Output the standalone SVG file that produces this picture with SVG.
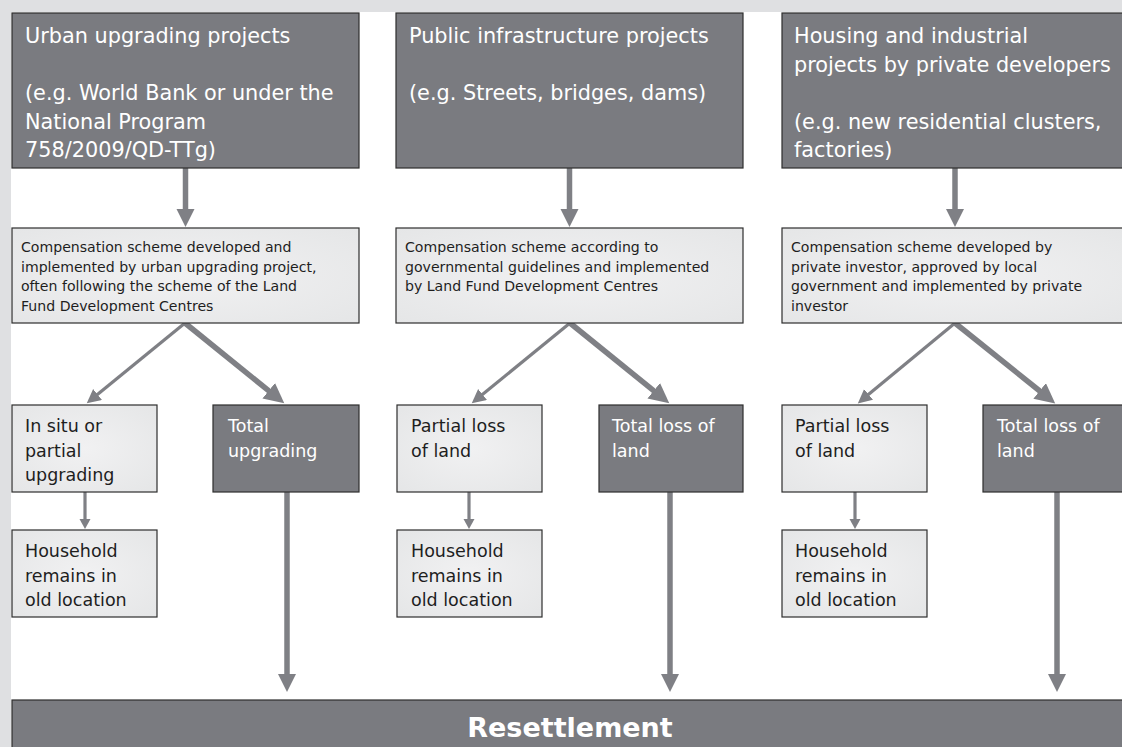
<svg xmlns="http://www.w3.org/2000/svg" width="1122" height="747" viewBox="0 0 1122 747">
<defs>
<style>
.dark{fill:#7a7b80;stroke:#2e2e2e;stroke-width:1.2}
.light{fill:url(#lg);stroke:#2e2e2e;stroke-width:1.2}
.tw{font-family:"DejaVu Sans",Verdana,sans-serif;fill:#ffffff}
.tb{font-family:"DejaVu Sans",Verdana,sans-serif;fill:#1e1e1e}
.big{font-size:20.8px}
.mid{font-size:17.5px}
.sm{font-size:14.1px}
.conn{stroke:#7f8085;fill:none;stroke-linecap:butt}
.thick{stroke-width:5.5}
.thin{stroke-width:3.2}
</style>
<radialGradient id="lg" cx="50%" cy="50%" r="70%">
<stop offset="0" stop-color="#f1f1f2"/>
<stop offset="1" stop-color="#e5e6e7"/>
</radialGradient>
<marker id="hL" markerUnits="userSpaceOnUse" markerWidth="22" markerHeight="22" refX="1" refY="10" orient="auto">
<path d="M0,0 L20,10 L0,20 z" fill="#7f8085"/>
</marker>
<marker id="hM" markerUnits="userSpaceOnUse" markerWidth="20" markerHeight="20" refX="1" refY="9" orient="auto">
<path d="M0,0 L18,9 L0,18 z" fill="#7f8085"/>
</marker>
<marker id="hS" markerUnits="userSpaceOnUse" markerWidth="16" markerHeight="16" refX="1" refY="7" orient="auto">
<path d="M0,0 L14,7 L0,14 z" fill="#7f8085"/>
</marker>
<marker id="hXS" markerUnits="userSpaceOnUse" markerWidth="12" markerHeight="12" refX="1" refY="5.5" orient="auto">
<path d="M0,0 L10,5.5 L0,11 z" fill="#7f8085"/>
</marker>
</defs>
<rect x="0" y="0" width="1122" height="747" fill="#dfe0e2"/>
<rect x="11" y="12" width="1111" height="735" fill="#ffffff"/>

<g id="connectors">
<line class="conn thick" x1="185.5" y1="168" x2="185.5" y2="210" marker-end="url(#hM)"/>
<line class="conn thick" x1="569.5" y1="168" x2="569.5" y2="210" marker-end="url(#hM)"/>
<line class="conn thick" x1="955" y1="168" x2="955" y2="210" marker-end="url(#hM)"/>

<line class="conn thin" x1="185" y1="323" x2="96.8" y2="395.1" marker-end="url(#hS)"/>
<line class="conn thick" x1="185" y1="323" x2="269.5" y2="391.4" marker-end="url(#hL)"/>
<line class="conn thin" x1="570" y1="323" x2="481.8" y2="395.1" marker-end="url(#hS)"/>
<line class="conn thick" x1="570" y1="323" x2="654.5" y2="391.4" marker-end="url(#hL)"/>
<line class="conn thin" x1="955" y1="323" x2="867.8" y2="395.1" marker-end="url(#hS)"/>
<line class="conn thick" x1="955" y1="323" x2="1040.4" y2="391.5" marker-end="url(#hL)"/>

<line class="conn thin" x1="85" y1="492" x2="85" y2="520" marker-end="url(#hXS)"/>
<line class="conn thin" x1="469" y1="492" x2="469" y2="520" marker-end="url(#hXS)"/>
<line class="conn thin" x1="855" y1="492" x2="855" y2="520" marker-end="url(#hXS)"/>

<line class="conn thick" x1="287" y1="492" x2="287" y2="675" marker-end="url(#hM)"/>
<line class="conn thick" x1="670" y1="492" x2="670" y2="675" marker-end="url(#hM)"/>
<line class="conn thick" x1="1057" y1="492" x2="1057" y2="675" marker-end="url(#hM)"/>
</g>

<g id="urban-projects">
<rect class="dark" x="12" y="13" width="347" height="155"/>
<text class="tw big"><tspan x="25" y="43">Urban upgrading projects</tspan><tspan x="25" y="100">(e.g. World Bank or under the</tspan><tspan x="25" y="128.5">National Program</tspan><tspan x="25" y="157">758/2009/QD-TTg)</tspan></text>
</g>
<g id="public-projects">
<rect class="dark" x="396" y="13" width="347" height="155"/>
<text class="tw big"><tspan x="409" y="43">Public infrastructure projects</tspan><tspan x="409" y="100">(e.g. Streets, bridges, dams)</tspan></text>
</g>
<g id="housing-projects">
<rect class="dark" x="782" y="13" width="346" height="155"/>
<text class="tw big"><tspan x="794" y="43">Housing and industrial</tspan><tspan x="794" y="71.5">projects by private developers</tspan><tspan x="794" y="128.5">(e.g. new residential clusters,</tspan><tspan x="794" y="157">factories)</tspan></text>
</g>

<g id="comp-urban">
<rect class="light" x="12" y="228" width="347" height="95"/>
<text class="tb sm"><tspan x="21" y="252">Compensation scheme developed and</tspan><tspan x="21" y="271.5">implemented by urban upgrading project,</tspan><tspan x="21" y="291">often following the scheme of the Land</tspan><tspan x="21" y="310.5">Fund Development Centres</tspan></text>
</g>
<g id="comp-public">
<rect class="light" x="396" y="228" width="347" height="95"/>
<text class="tb sm"><tspan x="405" y="252">Compensation scheme according to</tspan><tspan x="405" y="271.5">governmental guidelines and implemented</tspan><tspan x="405" y="291">by Land Fund Development Centres</tspan></text>
</g>
<g id="comp-housing">
<rect class="light" x="782" y="228" width="346" height="95"/>
<text class="tb sm"><tspan x="791" y="252">Compensation scheme developed by</tspan><tspan x="791" y="271.5">private investor, approved by local</tspan><tspan x="791" y="291">government and implemented by private</tspan><tspan x="791" y="310.5">investor</tspan></text>
</g>

<g id="in-situ">
<rect class="light" x="12" y="405" width="145" height="87"/>
<text class="tb mid"><tspan x="25" y="432">In situ or</tspan><tspan x="25" y="456.5">partial</tspan><tspan x="25" y="481">upgrading</tspan></text>
</g>
<g id="total-upgrading">
<rect class="dark" x="213" y="405" width="146" height="87"/>
<text class="tw mid"><tspan x="228" y="432">Total</tspan><tspan x="228" y="456.5">upgrading</tspan></text>
</g>
<g id="household-1">
<rect class="light" x="12" y="530" width="145" height="87"/>
<text class="tb mid"><tspan x="25" y="557">Household</tspan><tspan x="25" y="581.5">remains in</tspan><tspan x="25" y="606">old location</tspan></text>
</g>

<g id="partial-loss-2">
<rect class="light" x="397" y="405" width="145" height="87"/>
<text class="tb mid"><tspan x="411" y="432">Partial loss</tspan><tspan x="411" y="456.5">of land</tspan></text>
</g>
<g id="total-loss-2">
<rect class="dark" x="599" y="405" width="144" height="87"/>
<text class="tw mid"><tspan x="612" y="432">Total loss of</tspan><tspan x="612" y="456.5">land</tspan></text>
</g>
<g id="household-2">
<rect class="light" x="397" y="530" width="145" height="87"/>
<text class="tb mid"><tspan x="411" y="557">Household</tspan><tspan x="411" y="581.5">remains in</tspan><tspan x="411" y="606">old location</tspan></text>
</g>

<g id="partial-loss-3">
<rect class="light" x="782" y="405" width="145" height="87"/>
<text class="tb mid"><tspan x="795" y="432">Partial loss</tspan><tspan x="795" y="456.5">of land</tspan></text>
</g>
<g id="total-loss-3">
<rect class="dark" x="983" y="405" width="145" height="87"/>
<text class="tw mid"><tspan x="997" y="432">Total loss of</tspan><tspan x="997" y="456.5">land</tspan></text>
</g>
<g id="household-3">
<rect class="light" x="782" y="530" width="145" height="87"/>
<text class="tb mid"><tspan x="795" y="557">Household</tspan><tspan x="795" y="581.5">remains in</tspan><tspan x="795" y="606">old location</tspan></text>
</g>

<g id="resettlement">
<rect class="dark" x="12" y="700" width="1116" height="52"/>
<text class="tw" x="570" y="737" text-anchor="middle" font-size="27" font-weight="bold">Resettlement</text>
</g>
</svg>
